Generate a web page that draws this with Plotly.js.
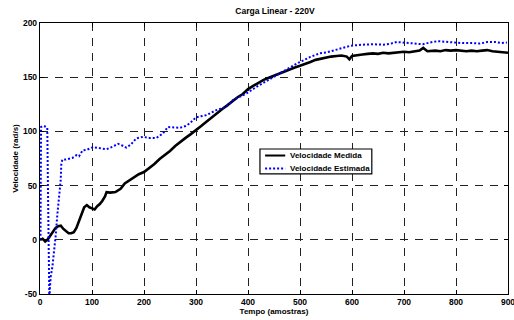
<!DOCTYPE html>
<html>
<head>
<meta charset="utf-8">
<script src="https://cdn.plot.ly/plotly-3.0.1.min.js"></script>
<style>html,body{margin:0;padding:0;background:#fff;}#chart{width:514px;height:320px;}</style>
</head>
<body>
<div id="chart"></div>
<script>
// Velocidade Medida (black, solid)
const medidaX = [0,5,10,15,20,25,30,35,40,45,50,55,60,65,70,75,80,85,90,95,100,105,110,115,120,125,128,135,145,155,163,170,180,190,200,210,220,230,240,250,260,270,280,290,300,310,320,330,340,350,360,370,380,390,400,410,420,430,440,450,460,470,480,490,500,510,520,530,540,550,560,570,580,590,595,600,610,620,630,640,650,660,670,680,690,700,710,720,730,737,745,760,770,780,790,800,810,820,830,840,850,860,870,880,890,900];
const medidaY = [0,1,-1.5,0.5,4,8,11,12.5,13,10,7.5,6,6,7,11,18,25,30,32,30,29,28,31,33,36,40,44,43.5,44,47,52,54,57.5,60.5,62.5,66,70,74.5,78,82,86.5,90.5,94,97.5,101,105,109,113,116.5,120.5,124,128,131.5,134.5,139,142,145,147.5,149.5,151.5,153,155,157,159,160.5,162,164,166,167,168.5,169,169.5,170,169,166.5,169.5,170.5,171,171.5,172,171.5,172.5,172,172.5,173,173.5,173,174,174.5,177,174,174.5,174,175,174.5,175,174.5,174,174.5,174,174.5,175,174,173.5,173,172.5];

// Velocidade Estimada (blue, dotted)
const estimadaX = [0,1,2,5,10,14,15,16,17,18,19,20.6,23.8,26.9,30,33.5,36.5,39.8,41,43,50,62,70,75,82,90,102,110,120,128,140,150,158,166,175,185,198,210,224,236,246,258,269,280,288,300,320,339,358,371,385,397,416,430,449,470,494,520,538,552,575,597,620,642,660,675,686,700,720,736,750,765,785,808,830,846,860,875,888,898];
const estimadaY = [0,3,104,105,104.5,103.5,60,10,-40,-56,-45,-34,-25,-12,3,24,40,55,70,74,74,75.5,78,77,82.5,83,85.5,85,84,83.5,86,88.5,87,85,88,93.5,95,94,94,98,104,103.5,103.3,105,107.4,113,115,119.6,122.6,128.8,132,135,141,145,150,156,162.6,168.7,172,173,176,179,180,180.4,180,181,182.5,182,181,180.4,182,183.3,182.5,181.6,181.5,181,182.5,182.5,181.5,182];

const xTicks = [0,100,200,300,400,500,600,700,800,900];
const yTicks = [-50,0,50,100,150,200];

const titleText = 'Carga Linear - 220V';
const xTitle = 'Tempo (amostras)';
const yTitle = 'Velocidade (rad/s)';
const names = ['Velocidade Medida', 'Velocidade Estimada'];

const FONT = 'Liberation Sans, Arial, sans-serif';
const LINE_M = {color: '#000000', width: 2.6};
const LINE_E = {color: '#0000ff', width: 2, dash: '2px,2px'};

const traces = [
  {x: medidaX, y: medidaY, type: 'scatter', mode: 'lines', name: names[0], line: LINE_M},
  {x: estimadaX, y: estimadaY, type: 'scatter', mode: 'lines', name: names[1], line: LINE_E}
];

const axisCommon = {
  showline: true, linecolor: '#000', linewidth: 1.2, mirror: 'ticks',
  ticks: 'inside', ticklen: 4, tickcolor: '#000', tickwidth: 1,
  showgrid: true, gridcolor: '#222', gridwidth: 1, griddash: '8px,7px',
  zeroline: false, ticklabeloverflow: 'allow',
  tickfont: {family: FONT, size: 8.5, color: '#000'}
};

// custom compact legend (paper coords of the plot area)
const lg = {x0: 0.470, x1: 0.709, y0: 0.443, y1: 0.535, sx0: 0.481, sx1: 0.524, tx: 0.530, yM: 0.511, yE: 0.463};

const layout = {
  width: 514, height: 320,
  margin: {l: 40, r: 6, t: 23, b: 26},
  paper_bgcolor: '#fff', plot_bgcolor: '#fff',
  showlegend: false,
  title: {text: '<b>' + titleText + '</b>', font: {family: FONT, size: 8.5, color: '#000'},
          x: 0.535, xanchor: 'center', y: 0.965, yanchor: 'middle'},
  xaxis: Object.assign({}, axisCommon, {
    range: [0, 900], tickvals: xTicks, ticktext: xTicks.map(v => '<b>' + v + '</b>'),
    title: {text: '<b>' + xTitle + '</b>', font: {family: FONT, size: 8, color: '#000'}, standoff: 2}
  }),
  yaxis: Object.assign({}, axisCommon, {
    range: [-50, 200], tickvals: yTicks, ticktext: yTicks.map(v => '<b>' + v + '</b>'),
    title: {text: '<b>' + yTitle + '</b>', font: {family: FONT, size: 8, color: '#000'}, standoff: 3}
  }),
  shapes: [
    {type: 'rect', xref: 'paper', yref: 'paper', x0: lg.x0, x1: lg.x1, y0: lg.y0, y1: lg.y1,
     fillcolor: '#fff', line: {color: '#000', width: 1.2}, layer: 'above'},
    {type: 'line', xref: 'paper', yref: 'paper', x0: lg.sx0, x1: lg.sx1, y0: lg.yM, y1: lg.yM,
     line: {color: LINE_M.color, width: 2}, layer: 'above'},
    {type: 'line', xref: 'paper', yref: 'paper', x0: lg.sx0, x1: lg.sx1, y0: lg.yE, y1: lg.yE,
     line: {color: LINE_E.color, width: 2, dash: LINE_E.dash}, layer: 'above'}
  ],
  annotations: [
    {xref: 'paper', yref: 'paper', x: lg.tx, y: lg.yM, xanchor: 'left', yanchor: 'middle', showarrow: false,
     text: '<b>' + names[0] + '</b>', font: {family: FONT, size: 8, color: '#000'}},
    {xref: 'paper', yref: 'paper', x: lg.tx, y: lg.yE, xanchor: 'left', yanchor: 'middle', showarrow: false,
     text: '<b>' + names[1] + '</b>', font: {family: FONT, size: 8, color: '#000'}}
  ]
};

Plotly.newPlot('chart', traces, layout, {displayModeBar: false, staticPlot: true});
</script>
</body>
</html>
